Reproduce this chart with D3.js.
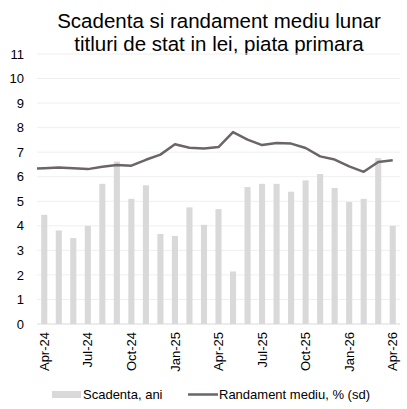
<!DOCTYPE html>
<html><head><meta charset="utf-8">
<script src="https://cdn.jsdelivr.net/npm/d3@7"></script>
<style>body{margin:0;background:#fff}svg{display:block;font-family:"Liberation Sans",Arial,sans-serif}</style>
</head><body>
<svg id="c" width="407" height="409"></svg>
<script>
const months = ["Apr-24","May-24","Jun-24","Jul-24","Aug-24","Sep-24","Oct-24","Nov-24","Dec-24","Jan-25","Feb-25","Mar-25","Apr-25","May-25","Jun-25","Jul-25","Aug-25","Sep-25","Oct-25","Nov-25","Dec-25","Jan-26","Feb-26","Mar-26","Apr-26"];
const scadenta = [4.45,3.81,3.50,4.0,5.71,6.62,5.10,5.65,3.67,3.59,4.75,4.04,4.68,2.14,5.58,5.71,5.71,5.39,5.85,6.11,5.54,4.97,5.10,6.76,4.0];
const randament = [6.35,6.38,6.35,6.31,6.41,6.48,6.45,6.69,6.90,7.32,7.18,7.15,7.21,7.82,7.51,7.29,7.37,7.35,7.17,6.83,6.70,6.42,6.20,6.60,6.67];
const randamentPrev = {month:"Mar-24", value:6.33};
const yTicks = [0,1,2,3,4,5,6,7,8,9,10,11];
const xLabels = ["Apr-24","Jul-24","Oct-24","Jan-25","Apr-25","Jul-25","Oct-25","Jan-26","Apr-26"];
const titleLines = ["Scadenta si randament mediu lunar","titluri de stat in lei, piata primara"];

const svg = d3.select("#c");
const m = {l:37, r:400, t:54, b:324};
const x = d3.scaleBand().domain(months).range([m.l, m.r]).paddingInner(0.58).paddingOuter(0.29);
const step = x.step();
const cx = d => x(d) + x.bandwidth()/2;
const y = d3.scaleLinear().domain([0,11]).range([m.b, m.t]);

svg.append("g").selectAll("text").data(titleLines).join("text")
  .attr("x", 219).attr("y", (d,i)=>28 + i*23).attr("text-anchor","middle")
  .attr("font-size", 20.5).attr("fill","#000").text(d=>d);

// gridlines
svg.append("g").selectAll("line").data(yTicks.filter(t=>t>0)).join("line")
  .attr("x1", m.l).attr("x2", m.r).attr("y1", d=>y(d)).attr("y2", d=>y(d))
  .attr("stroke","#efefef").attr("stroke-width",1);

// y axis labels
const ya = svg.append("g").attr("transform",`translate(${m.l},0)`)
  .call(d3.axisLeft(y).tickValues(yTicks).tickSize(0).tickPadding(13));
ya.select(".domain").remove();
ya.selectAll("text").attr("font-size",13).attr("fill","#000").attr("font-family","Liberation Sans, Arial, sans-serif");

// bars
svg.append("g").selectAll("rect").data(months).join("rect")
  .attr("x", d=>x(d)).attr("width", x.bandwidth())
  .attr("y", (d,i)=>y(scadenta[i])).attr("height", (d,i)=>y(0)-y(scadenta[i]))
  .attr("fill","#d9d9d9");

// baseline
svg.append("line").attr("x1",m.l).attr("x2",m.r).attr("y1",y(0)).attr("y2",y(0))
  .attr("stroke","#d9d9d9").attr("stroke-width",1);

// line
svg.append("clipPath").attr("id","pc").append("rect")
  .attr("x",m.l).attr("y",m.t-10).attr("width",m.r-m.l).attr("height",m.b-m.t+10);
const lineData = [{px: cx(months[0]) - step, v: randamentPrev.value}]
  .concat(months.map((mo,i)=>({px: cx(mo), v: randament[i]})));
svg.append("path").datum(lineData)
  .attr("clip-path","url(#pc)")
  .attr("d", d3.line().x(d=>d.px).y(d=>y(d.v)))
  .attr("fill","none").attr("stroke","#6b6566").attr("stroke-width",2.5).attr("stroke-linejoin","round");

// x axis labels
const xa = svg.append("g").attr("transform",`translate(0,${y(0)})`)
  .call(d3.axisBottom(x).tickValues(xLabels).tickSize(0).tickPadding(0));
xa.select(".domain").remove();
xa.selectAll("text").attr("font-size",13).attr("fill","#000")
  .attr("font-family","Liberation Sans, Arial, sans-serif")
  .attr("text-anchor","end").attr("dy","0.35em")
  .attr("transform","translate(0,8) rotate(-90)").attr("x",0).attr("y",0);

// legend
const lg = svg.append("g");
lg.append("rect").attr("x",52).attr("y",391).attr("width",29).attr("height",7).attr("fill","#d9d9d9");
lg.append("text").attr("x",83).attr("y",399).attr("font-size",13).attr("fill","#000").text("Scadenta, ani");
lg.append("line").attr("x1",188).attr("x2",218).attr("y1",394.5).attr("y2",394.5).attr("stroke","#6b6566").attr("stroke-width",2.5);
lg.append("text").attr("x",219).attr("y",399).attr("font-size",13).attr("fill","#000").text("Randament mediu, % (sd)");
</script>
</body></html>
